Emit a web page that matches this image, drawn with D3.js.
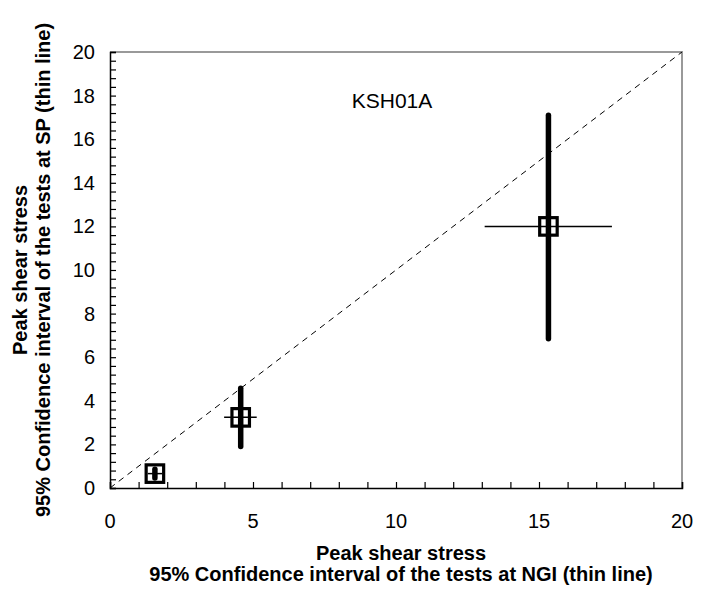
<!DOCTYPE html>
<html>
<head>
<meta charset="utf-8">
<script src="https://cdn.jsdelivr.net/npm/d3@7"></script>
<style>
  html, body { margin: 0; padding: 0; background: #fff; }
  svg { display: block; font-family: "Liberation Sans", Arial, sans-serif; }
</style>
</head>
<body>
<svg id="chart" width="704" height="591"></svg>
<script>
// Peak shear stress, KSH01A: SP mean vs NGI mean with 95% confidence intervals
const sampleNames = ["A", "B", "C"];
const ngiMean = [1.57, 4.57, 15.33];
const ngiLow  = [1.32, 3.99, 13.10];
const ngiHigh = [1.82, 5.13, 17.55];
const spMean  = [0.66, 3.24, 12.0];
const spLow   = [0.46, 1.90, 6.85];
const spHigh  = [0.86, 4.57, 17.10];

const xTickLabels = [0, 5, 10, 15, 20];
const yTickLabels = [0, 2, 4, 6, 8, 10, 12, 14, 16, 18, 20];
const boreholeLabel = "KSH01A";

const svg = d3.select("#chart");
const m = { left: 110, top: 52, right: 22, bottom: 103 };
const W = 704, H = 591;
const x = d3.scaleLinear().domain([0, 20]).range([m.left, W - m.right]);
const y = d3.scaleLinear().domain([0, 20]).range([H - m.bottom, m.top]);

// grey frame on top and right
svg.append("path")
  .attr("d", `M${x(0)},${y(20)}H${x(20)}V${y(0)}`)
  .attr("fill", "none").attr("stroke", "#999").attr("stroke-width", 2);

// y axis: inward ticks every 0.4, labels every 2
const yAxis = svg.append("g").attr("transform", `translate(${x(0)},0)`)
  .call(d3.axisRight(y).tickValues(d3.range(0, 20.001, 0.4)).tickSize(6).tickFormat(""));
yAxis.select(".domain").attr("stroke", "#000").attr("stroke-width", 1.5);
yAxis.selectAll(".tick line").attr("stroke", "#000").attr("stroke-width", 1.2);
svg.append("g").selectAll("text").data(yTickLabels).join("text")
  .attr("x", 95).attr("y", d => y(d)).attr("dy", "0.35em")
  .attr("text-anchor", "end").attr("font-size", 20).attr("fill", "#000")
  .text(d => d);

// x axis: inward ticks every 1, labels every 5
const xAxis = svg.append("g").attr("transform", `translate(0,${y(0)})`)
  .call(d3.axisTop(x).tickValues(d3.range(0, 21, 1)).tickSize(6).tickFormat(""));
xAxis.select(".domain").attr("stroke", "#000").attr("stroke-width", 1.5);
xAxis.selectAll(".tick line").attr("stroke", "#000").attr("stroke-width", 1.2);
svg.append("g").selectAll("text").data(xTickLabels).join("text")
  .attr("x", d => x(d)).attr("y", 521).attr("dy", "0.35em")
  .attr("text-anchor", "middle").attr("font-size", 20).attr("fill", "#000")
  .text(d => d);

// 1:1 line
svg.append("line")
  .attr("x1", x(0)).attr("y1", y(0)).attr("x2", x(20)).attr("y2", y(20))
  .attr("stroke", "#000").attr("stroke-width", 1).attr("stroke-dasharray", "6,5");

const pts = sampleNames.map((n, i) => ({
  n, xm: ngiMean[i], xl: ngiLow[i], xh: ngiHigh[i],
  ym: spMean[i], yl: spLow[i], yh: spHigh[i]
}));

// NGI interval (thin horizontal)
svg.append("g").selectAll("line").data(pts).join("line")
  .attr("x1", d => x(d.xl)).attr("x2", d => x(d.xh))
  .attr("y1", d => y(d.ym)).attr("y2", d => y(d.ym))
  .attr("stroke", "#000").attr("stroke-width", 1.5);

// SP interval (thick vertical)
svg.append("g").selectAll("line").data(pts).join("line")
  .attr("x1", d => x(d.xm)).attr("x2", d => x(d.xm))
  .attr("y1", d => y(d.yl)).attr("y2", d => y(d.yh))
  .attr("stroke", "#000").attr("stroke-width", 5.5).attr("stroke-linecap", "round");

// mean markers
const s = 17.5;
svg.append("g").selectAll("rect").data(pts).join("rect")
  .attr("x", d => x(d.xm) - s / 2).attr("y", d => y(d.ym) - s / 2)
  .attr("width", s).attr("height", s)
  .attr("fill", "none").attr("stroke", "#000").attr("stroke-width", 3.2);

svg.append("text").attr("x", 392).attr("y", 101).attr("dy", "0.35em")
  .attr("text-anchor", "middle").attr("font-size", 21).text(boreholeLabel);

// axis titles
const xt = svg.append("text").attr("text-anchor", "middle")
  .attr("font-size", 20).attr("font-weight", "bold");
xt.append("tspan").attr("x", 401).attr("y", 560).text("Peak shear stress");
xt.append("tspan").attr("x", 401).attr("y", 581).text("95% Confidence interval of the tests at NGI (thin line)");

const yt = svg.append("text").attr("text-anchor", "middle")
  .attr("font-size", 20).attr("font-weight", "bold")
  .attr("transform", `translate(0,${(y(0) + y(20)) / 2}) rotate(-90)`);
yt.append("tspan").attr("x", 0).attr("y", 27).text("Peak shear stress");
yt.append("tspan").attr("x", 0).attr("y", 50).text("95% Confidence interval of the tests at SP (thin line)");
</script>
</body>
</html>
